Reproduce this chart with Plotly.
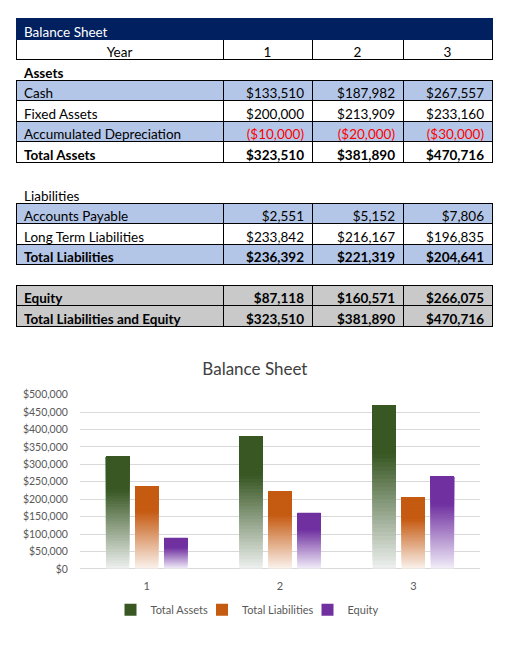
import plotly.graph_objects as go

# ---------------- data ----------------
years = ["1", "2", "3"]
cash = [133510, 187982, 267557]
fixed_assets = [200000, 213909, 233160]
accum_dep = [-10000, -20000, -30000]
total_assets = [323510, 381890, 470716]
accounts_payable = [2551, 5152, 7806]
long_term_liab = [233842, 216167, 196835]
total_liab = [236392, 221319, 204641]
equity = [87118, 160571, 266075]
total_le = [323510, 381890, 470716]

series_names = ["Total Assets", "Total Liabilities", "Equity"]
series_values = [total_assets, total_liab, equity]

# ---------------- styles ----------------
FONT = "Lato"
FS = 13.5
NAVY = "#002060"
BLUE = "#B4C6E7"
GREY = "#C9C9C9"
CLEAR = "rgba(0,0,0,0)"
DARK = ["#385723", "#C55A11", "#7030A0"]
LIGHT = ["#EEF1F0", "#FBF3EE", "#F2EEF9"]
ROW_H = 20.5
TOP = 19
TABLE_SHIFT = 6      # plotly table draws its first row a few px below the domain top
W, H = 515, 657
COLW = [207, 89, 91, 89]
LEGEND_X = [162, 260.5, 345.5]   # px centre of each legend entry


def money(v):
    return f"(${-v:,.0f})" if v < 0 else f"${v:,.0f}"


# rows: (label, values, fill, bordered, bold, red, kind)
rows = [
    ("Year", years, "white", True, False, False, "center"),
    ("Assets", None, CLEAR, False, True, False, "num"),
    ("Cash", cash, BLUE, True, False, False, "num"),
    ("Fixed Assets", fixed_assets, "white", True, False, False, "num"),
    ("Accumulated Depreciation", accum_dep, BLUE, True, False, True, "num"),
    ("Total Assets", total_assets, "white", True, True, False, "num"),
    ("", None, CLEAR, False, False, False, "num"),
    ("Liabilities", None, CLEAR, False, False, False, "num"),
    ("Accounts Payable", accounts_payable, BLUE, True, False, False, "num"),
    ("Long Term Liabilities", long_term_liab, "white", True, False, False, "num"),
    ("Total Liabilities", total_liab, BLUE, True, True, False, "num"),
    ("", None, CLEAR, False, False, False, "num"),
    ("Equity", equity, GREY, True, True, False, "num"),
    ("Total Liabilities and Equity", total_le, GREY, True, True, False, "num"),
]

ncols = 4
values = [[] for _ in range(ncols)]
fills = [[] for _ in range(ncols)]
lcolors = [[] for _ in range(ncols)]
fcolors = [[] for _ in range(ncols)]
weights = [[] for _ in range(ncols)]
aligns = [[] for _ in range(ncols)]

for label, vals, fill, bordered, bold, red, kind in rows:
    for c in range(ncols):
        if c == 0:
            txt = label
        elif vals is None:
            txt = ""
        elif kind == "center":
            txt = vals[c - 1]
        else:
            txt = money(vals[c - 1])
        values[c].append(txt)
        fills[c].append(fill)
        lcolors[c].append("black" if bordered else CLEAR)
        fcolors[c].append("#FF0000" if (red and c > 0) else "black")
        weights[c].append("bold" if bold else "normal")
        if kind == "center":
            aligns[c].append("center")
        else:
            aligns[c].append("left" if c == 0 else "right")

n_rows = 1 + len(rows)
dom_top = TOP - TABLE_SHIFT
dom_bot = TOP + n_rows * ROW_H + 10

fig = go.Figure()
fig.add_trace(go.Table(
    domain=dict(x=[16 / W, 492 / W], y=[1 - dom_bot / H, 1 - dom_top / H]),
    columnwidth=COLW,
    header=dict(values=["Balance Sheet", "", "", ""], fill_color=NAVY,
                line=dict(color=NAVY, width=1),
                font=dict(family=FONT, size=FS, color="white"),
                align="left", height=ROW_H),
    cells=dict(values=values, fill_color=fills,
               line=dict(color=lcolors, width=1),
               font=dict(family=FONT, size=FS, color=fcolors, weight="normal"),
               align=["left", "right", "right", "right"], height=ROW_H),
))
# plotly.js picks table font weight and alignment per cell from 2-D arrays;
# the python validator only allows 1-D, so set them on the trace data directly.
fig._data[0]["cells"]["font"]["weight"] = weights
fig._data[0]["cells"]["align"] = aligns

# ---------------- gradient bars ----------------
N = 40


def mix(c1, c2, t):
    a = [int(c1[i:i + 2], 16) for i in (1, 3, 5)]
    b = [int(c2[i:i + 2], 16) for i in (1, 3, 5)]
    return "#" + "".join(f"{round(a[i] + (b[i] - a[i]) * t):02X}" for i in range(3))


legend_ids = ["legend", "legend2", "legend3"]
for s, (name, vals) in enumerate(zip(series_names, series_values)):
    for k in range(N):
        t_top = 1 - (k + 0.5) / N
        col = DARK[s] if t_top < 0.3 else mix(DARK[s], LIGHT[s], (t_top - 0.3) / 0.7)
        bases = [v * k / N for v in vals]
        heights = [v - b for v, b in zip(vals, bases)]
        fig.add_trace(go.Bar(
            x=years, y=heights, base=bases,
            name=name, offsetgroup=str(s), legendgroup=name,
            legend=legend_ids[s],
            marker=dict(color=col, line=dict(width=0)),
            showlegend=(k == N - 1),
            hoverinfo="skip" if k < N - 1 else None,
        ))


def legend_box(xpx):
    return dict(orientation="h", x=xpx / W, xanchor="center",
                y=1 - 615 / H, yanchor="middle",
                font=dict(family=FONT, size=11, color="#595959"),
                itemwidth=30, bgcolor="rgba(0,0,0,0)")


fig.update_layout(
    width=W, height=H,
    margin=dict(l=0, r=0, t=0, b=0),
    paper_bgcolor="white", plot_bgcolor="white",
    barmode="group", bargap=0.346, bargroupgap=0.2,
    title=dict(text="Balance Sheet", x=0.495, xanchor="center",
               y=1 - 369 / H, yanchor="middle",
               font=dict(family=FONT, size=17, color="#404040")),
    xaxis=dict(domain=[80 / W, 480 / W], type="category",
               showgrid=False, zeroline=False, showline=False,
               ticks="outside", ticklen=7, tickcolor="rgba(0,0,0,0)",
               tickfont=dict(family=FONT, size=11, color="#595959")),
    yaxis=dict(domain=[1 - 573.3 / H, 1 - 396 / H], range=[0, 500000],
               dtick=50000, tickformat="$,.0f",
               gridcolor="#D9D9D9", gridwidth=1,
               zeroline=True, zerolinecolor="#D9D9D9", zerolinewidth=1,
               showline=False, ticks="outside", ticklen=9,
               tickcolor="rgba(0,0,0,0)",
               tickfont=dict(family=FONT, size=10.5, color="#595959")),
    legend=legend_box(LEGEND_X[0]),
    legend2=legend_box(LEGEND_X[1]),
    legend3=legend_box(LEGEND_X[2]),
)

fig.write_html("out.html", config={"displayModeBar": False},
               post_script="document.body.style.margin='0px';")
